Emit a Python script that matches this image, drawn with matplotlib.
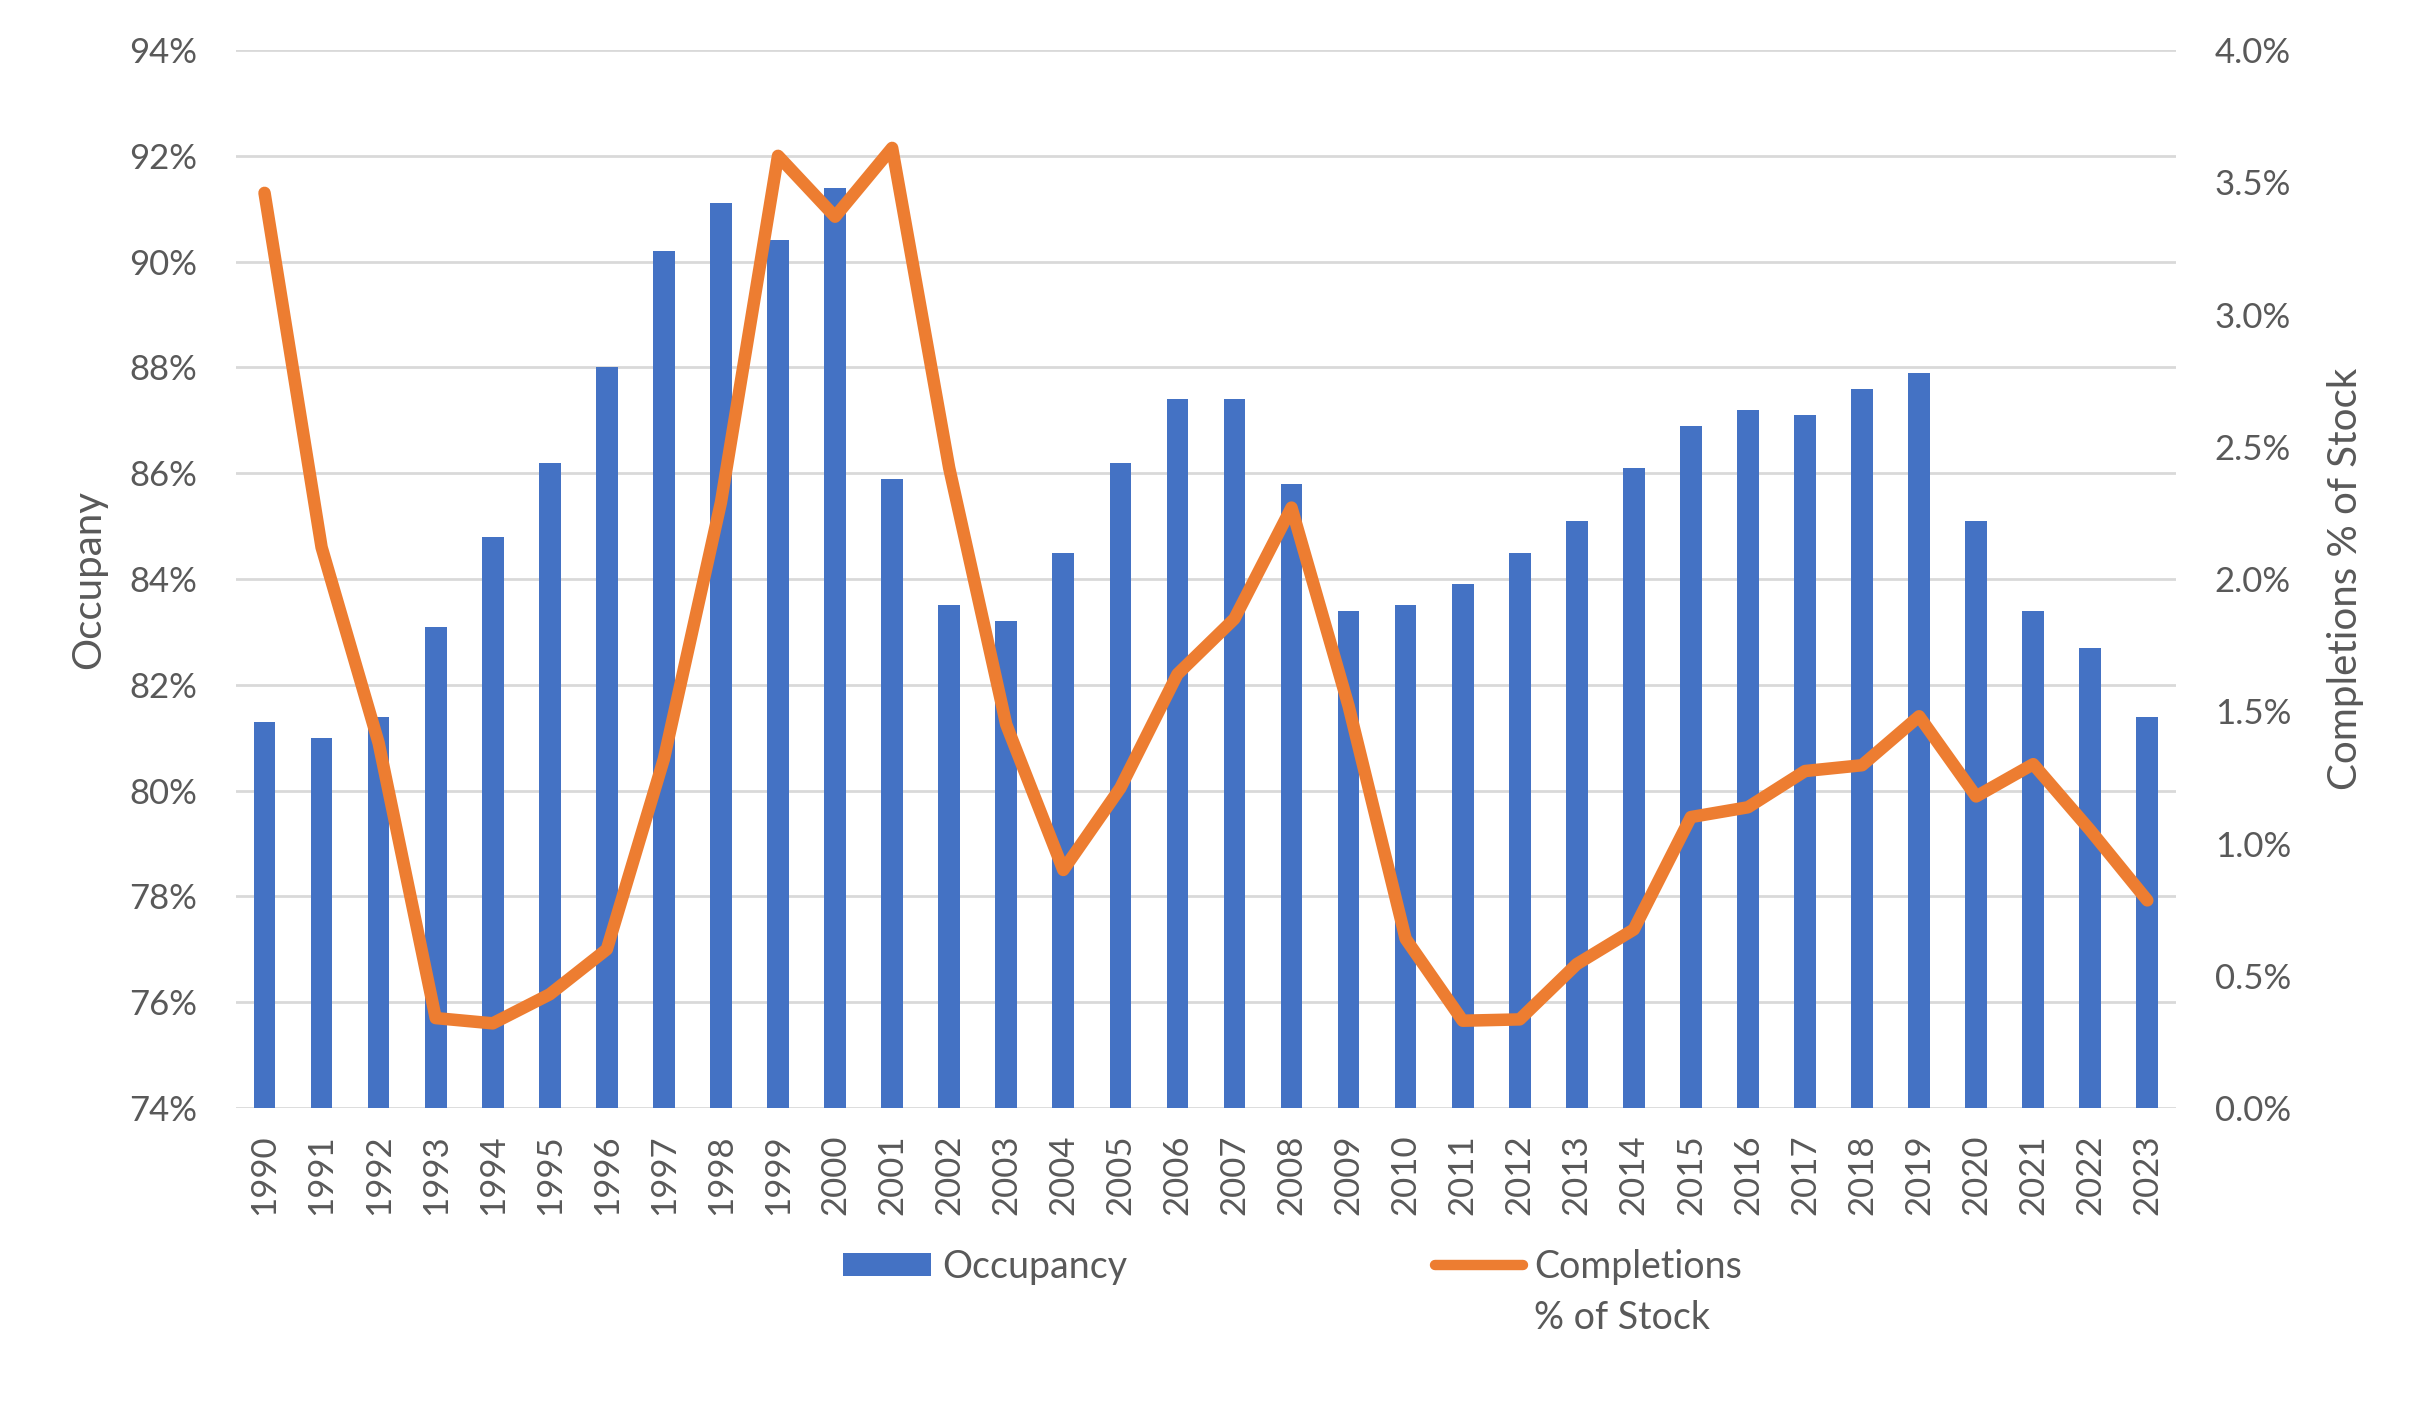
import matplotlib
matplotlib.use('Agg')
import matplotlib.pyplot as plt
import numpy as np

plt.rcParams['font.family'] = ['Lato', 'DejaVu Sans']

years = [str(y) for y in range(1990, 2024)]
occupancy = [81.3, 81.0, 81.4, 83.1, 84.8, 86.2, 88.0, 90.2, 91.1, 90.4,
             91.4, 85.9, 83.5, 83.2, 84.5, 86.2, 87.4, 87.4, 85.8, 83.4,
             83.5, 83.9, 84.5, 85.1, 86.1, 86.9, 87.2, 87.1, 87.6, 87.9,
             85.1, 83.4, 82.7, 81.4]
completions = [3.46, 2.12, 1.38, 0.34, 0.32, 0.43, 0.60, 1.32, 2.29, 3.60,
               3.37, 3.63, 2.42, 1.45, 0.90, 1.21, 1.64, 1.85, 2.27, 1.52,
               0.64, 0.33, 0.335, 0.544, 0.675, 1.10, 1.137, 1.274, 1.296, 1.481,
               1.178, 1.30, 1.05, 0.785]

blue = '#4472C4'
orange = '#ED7D31'
grey = '#595959'
gridc = '#D9D9D9'

fig = plt.figure(figsize=(24.23, 14.02), dpi=100)
ax = fig.add_axes([0.0974, 0.2097, 0.8006, 0.7546])
x = np.arange(len(years))

ax.bar(x, occupancy, width=0.38, color=blue, zorder=3, label='Occupancy')
ax.set_ylim(74, 94)
ax.set_xlim(-0.5, len(years) - 0.5)
ax.set_yticks(np.arange(74, 95, 2))
ax.set_yticklabels([f'{v:.0f}%' for v in np.arange(74, 95, 2)])
ax.set_xticks(x)
ax.set_xticklabels(years, rotation=90)
ax.grid(axis='y', color=gridc, linewidth=2, zorder=0)
ax.set_axisbelow(True)
for s in ax.spines.values():
    s.set_visible(False)
ax.tick_params(axis='y', length=0, pad=28, labelsize=25, labelcolor=grey)
ax.tick_params(axis='x', length=0, pad=19, labelsize=25, labelcolor=grey)
ax.set_ylabel('Occupany', fontsize=29, color=grey)
ax.yaxis.set_label_coords(-0.0665, 0.5)

ax2 = ax.twinx()
ax2.plot(x, completions, color=orange, linewidth=9, solid_joinstyle='round',
         solid_capstyle='round', zorder=4, label='Completions')
ax2.set_ylim(0, 4)
ax2.set_yticks(np.arange(0, 4.01, 0.5))
ax2.set_yticklabels([f'{v:.1f}%' for v in np.arange(0, 4.01, 0.5)])
for s in ax2.spines.values():
    s.set_visible(False)
ax2.tick_params(axis='y', length=0, pad=28, labelsize=25, labelcolor=grey)
ax2.set_ylabel('Completions % of Stock', fontsize=29, color=grey, rotation=90)
ax2.yaxis.set_label_coords(1.078, 0.5)

h1, l1 = ax.get_legend_handles_labels()
h2, l2 = ax2.get_legend_handles_labels()
leg = fig.legend(h1 + h2, l1 + l2, loc='center', bbox_to_anchor=(0.5334, 0.0965),
                 ncol=2, frameon=False, fontsize=27, handlelength=2.35,
                 handleheight=0.55, handletextpad=0.3, columnspacing=8.2)
for t in leg.get_texts():
    t.set_color(grey)
leg.get_lines()[0].set_linewidth(7.5)

# second line of the line-series legend label
fig.canvas.draw()
bb = leg.get_texts()[1].get_window_extent()
W, H = fig.bbox.width, fig.bbox.height
fig.text(bb.x0 / W, ((bb.y0 + bb.y1) / 2 - 51) / H, '% of Stock', fontsize=27,
         color=grey, ha='left', va='center')

fig.savefig('out.png', dpi=100)
